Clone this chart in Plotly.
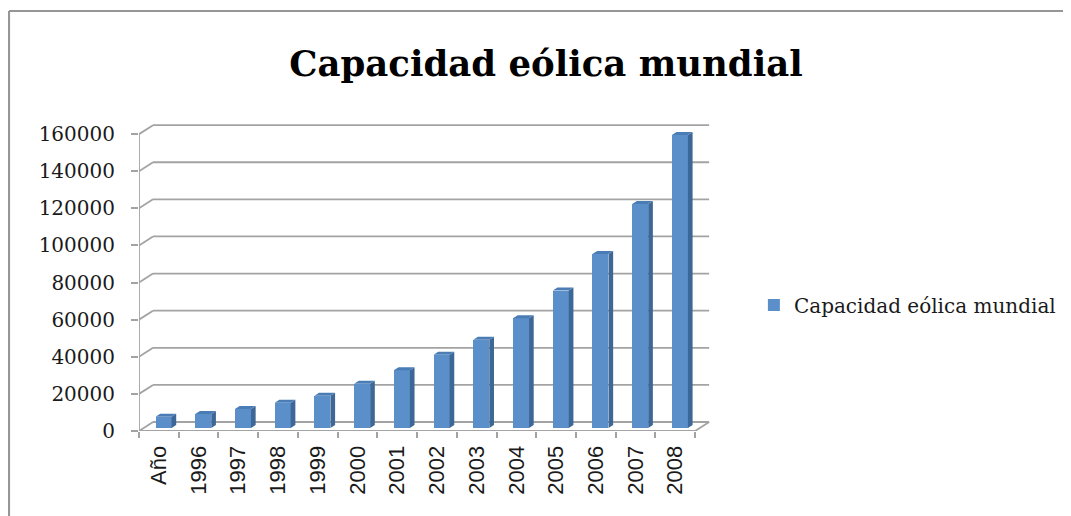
import plotly.graph_objects as go

# ---- data ----
categories = ["Año", "1996", "1997", "1998", "1999", "2000", "2001", "2002",
              "2003", "2004", "2005", "2006", "2007", "2008"]
capacity = [6100, 7600, 10200, 13600, 17400, 23900, 31100, 39431,
            47620, 59091, 74052, 93820, 120791, 157899]
y_ticks = [0, 20000, 40000, 60000, 80000, 100000, 120000, 140000, 160000]
series_name = "Capacidad eólica mundial"
title_text = "Capacidad eólica mundial"

# ---- pseudo-3D geometry (in axis units) ----
DX = 0.3526      # depth offset along x (category units)
DY = 4848        # depth offset along y (value units)
BW = 0.403       # bar width
FRONT = "#5b8fc9"
SIDE = "#3d6796"
TOP = "#4a7cb5"
GRID = "#a3a3a3"

xs = list(range(len(categories)))
d1x, d1y = DX / 3, DY / 3

fig = go.Figure()

# front faces
fig.add_trace(go.Bar(
    x=[i + d1x for i in xs], y=capacity, base=d1y, width=BW,
    marker=dict(color=FRONT, line=dict(width=0)),
    name=series_name, showlegend=True, hoverinfo="skip"))

# side faces
sx, sy = [], []
for i, v in zip(xs, capacity):
    r = i + d1x + BW / 2
    sx += [r, r + d1x, r + d1x, r, r, None]
    sy += [d1y, 2 * d1y, v + 2 * d1y, v + d1y, d1y, None]
fig.add_trace(go.Scatter(x=sx, y=sy, fill="toself", fillcolor=SIDE, mode="lines",
                         line=dict(width=0, color=SIDE), showlegend=False, hoverinfo="skip"))

# top faces
tx, ty = [], []
for i, v in zip(xs, capacity):
    l = i + d1x - BW / 2
    r = i + d1x + BW / 2
    tx += [l, r, r + d1x, l + d1x, l, None]
    ty += [v + d1y, v + d1y, v + 2 * d1y, v + 2 * d1y, v + d1y, None]
fig.add_trace(go.Scatter(x=tx, y=ty, fill="toself", fillcolor=TOP, mode="lines",
                         line=dict(width=0, color=TOP), showlegend=False, hoverinfo="skip"))

# ---- walls / grid as shapes ----
x0, x1 = -0.5, len(categories) - 0.5
shapes = []
lw = 1.8
for t in y_ticks:
    shapes.append(dict(type="line", xref="x", yref="y", x0=x0 + DX, x1=x1 + DX,
                       y0=t + DY, y1=t + DY, line=dict(color=GRID, width=lw), layer="below"))
    shapes.append(dict(type="line", xref="x", yref="y", x0=x0, x1=x0 + DX,
                       y0=t, y1=t + DY, line=dict(color=GRID, width=lw), layer="below"))
# floor front edge and right diagonal
shapes.append(dict(type="line", xref="x", yref="y", x0=x0, x1=x1, y0=0, y1=0,
                   line=dict(color=GRID, width=lw), layer="below"))
shapes.append(dict(type="line", xref="x", yref="y", x0=x1, x1=x1 + DX, y0=0, y1=DY,
                   line=dict(color=GRID, width=lw), layer="below"))
# front vertical axis
shapes.append(dict(type="line", xref="x", yref="y", x0=x0, x1=x0, y0=0, y1=y_ticks[-1],
                   line=dict(color=GRID, width=lw), layer="below"))
# outer chart frame
shapes.append(dict(type="line", xref="paper", yref="paper", x0=-0.2273, x1=-0.2273,
                   y0=-0.4, y1=1.3636, line=dict(color="#969696", width=2.2)))
shapes.append(dict(type="line", xref="paper", yref="paper", x0=-0.2273, x1=1.8,
                   y0=1.3636, y1=1.3636, line=dict(color="#969696", width=2.2)))

fig.update_layout(
    width=1071, height=516,
    margin=dict(l=131, r=368, t=115, b=93, autoexpand=False),
    paper_bgcolor="white", plot_bgcolor="white",
    shapes=shapes,
    title=dict(text=f"<b>{title_text}</b>", xref="container", yref="container",
               x=0.5023, y=0.893, xanchor="center", yanchor="middle",
               font=dict(family="DejaVu Serif", size=35.5, color="#000000")),
    xaxis=dict(range=[x0, x1 + 0.4], tickmode="array", tickvals=xs, ticktext=categories,
               tickangle=-90, showgrid=False, zeroline=False, showline=False,
               ticks="outside", ticklen=5, tickcolor="rgba(0,0,0,0)",
               tickfont=dict(family="Liberation Sans", size=22, color="#1a1a1a"),
               minor=dict(tickmode="array", tickvals=[x0 + k for k in range(len(categories) + 1)],
                          ticks="outside", ticklen=6, tickcolor=GRID, tickwidth=1.8, showgrid=False),
               automargin=False, fixedrange=True),
    yaxis=dict(range=[0, 166000], tickmode="array", tickvals=y_ticks,
               ticktext=[str(t) for t in y_ticks],
               showgrid=False, zeroline=False, showline=False,
               ticks="outside", ticklen=7, tickcolor=GRID, tickwidth=1.8,
               tickfont=dict(family="DejaVu Serif", size=20, color="#1a1a1a"),
               ticklabelstandoff=12, automargin=False, fixedrange=True),
    legend=dict(x=1.075, y=0.409, xanchor="left", yanchor="middle",
                font=dict(family="DejaVu Serif", size=20, color="#1a1a1a"),
                bgcolor="rgba(0,0,0,0)"),
    bargap=0,
)

fig.write_html("out.html")
